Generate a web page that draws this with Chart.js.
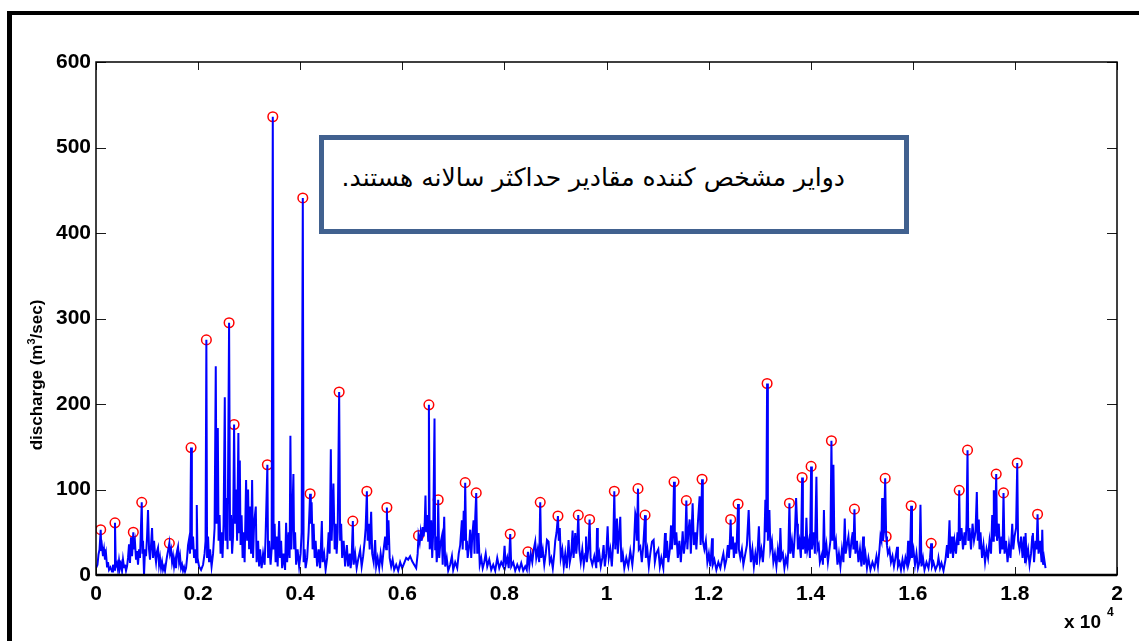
<!DOCTYPE html>
<html lang="fa">
<head>
<meta charset="UTF-8">
<title>Daily discharge with annual maxima</title>
<script src="https://cdn.jsdelivr.net/npm/chart.js"></script>
<style>
  body { margin:0; background:#fff; }
  .wrap { position:relative; width:1139px; height:641px; overflow:hidden; }
  .frame { position:absolute; left:7px; top:11px; width:1200px; height:700px; border-top:4px solid #000; border-left:5px solid #000; }
  #chart { position:absolute; left:0; top:0; }
  .note { position:absolute; left:319px; top:135px; width:590px; height:99px; box-sizing:border-box; border:5px solid #41618f; background:#fff; }
  .note p { position:absolute; right:59px; top:20px; margin:0; font:25px 'DejaVu Sans',sans-serif; line-height:36px; direction:rtl; white-space:nowrap; color:#000; }
</style>
</head>
<body>
<div class="wrap">
  <div class="frame"></div>
  <canvas id="chart" width="1139" height="641"></canvas>
  <div class="note"><p>دوایر مشخص کننده مقادیر حداکثر سالانه هستند.</p></div>
</div>

<script>
// axis ticks (x in units of 10^4 days)
const xTicks = [0, 0.2, 0.4, 0.6, 0.8, 1, 1.2, 1.4, 1.6, 1.8, 2];
const yTicks = [0, 100, 200, 300, 400, 500, 600];

// annual maxima (red circles): day index, discharge m3/s
const peakDays = [92, 372, 731, 896, 1437, 1862, 2162, 2607, 2705, 3357, 3463, 4051, 4194, 4763, 5031, 5306, 5698,
  6317, 6521, 6703, 7232, 7448, 8114, 8461, 8702, 9049, 9447, 9669, 10153, 10617, 10755, 11323, 11564, 11872,
  12432, 12577, 13146, 13583, 13832, 14008, 14406, 14857, 15459, 15478, 15968, 16360, 16909, 17072, 17634,
  17777, 18046, 18444];
const peakValues = [53, 61, 50, 85, 37, 149, 275, 295, 176, 129, 536, 441, 95, 214, 63, 98, 79,
  46, 199, 88, 108, 96, 48, 27, 85, 69, 70, 65, 98, 101, 70, 109, 87, 112,
  65, 83, 224, 84, 114, 127, 157, 77, 113, 45, 81, 37, 99, 146, 118,
  96, 131, 71];

// daily discharge trace: [day, m3/s]
const flowTrace = [
  [0,8],[29,12],[49,24],[69,30],[92,53],[104,28],[118,33],[137,22],[157,30],[176,18],[196,25],[216,10],[235,15],[255,6],[284,9],[314,4],[333,12],[353,6],[372,61],[388,10],
  [412,14],[431,6],[451,17],[470,8],[490,13],[510,5],[529,18],[549,9],[568,12],[588,5],[608,10],[627,20],[647,36],[666,14],[686,44],[706,22],[731,50],[745,30],[764,38],[784,18],
  [804,28],[823,12],[843,30],[862,20],[896,85],[911,25],[921,40],[941,0],[960,30],[980,22],[1000,45],[1019,76],[1039,30],[1058,18],[1078,35],[1098,55],[1117,20],[1137,40],[1156,25],[1176,15],
  [1196,28],[1215,32],[1235,12],[1254,20],[1274,8],[1294,15],[1313,6],[1333,10],[1352,5],[1372,14],[1392,22],[1411,28],[1437,37],[1450,25],[1470,30],[1490,15],[1509,22],[1529,10],[1548,18],[1568,8],
  [1588,28],[1607,33],[1627,15],[1646,22],[1666,8],[1686,12],[1705,5],[1725,9],[1744,4],[1764,8],[1784,20],[1803,35],[1823,42],[1842,25],[1862,149],[1878,30],[1901,45],[1921,20],[1940,30],[1960,15],
  [1974,82],[1989,20],[2019,10],[2058,6],[2097,12],[2127,25],[2146,40],[2162,275],[2176,20],[2195,45],[2215,15],[2234,30],[2264,10],[2293,25],[2323,55],[2346,244],[2362,60],[2386,172],[2401,40],[2421,70],
  [2440,25],[2460,50],[2479,20],[2499,60],[2523,208],[2538,40],[2558,90],[2577,30],[2607,295],[2626,40],[2646,70],[2666,25],[2685,45],[2705,176],[2724,60],[2744,100],[2764,40],[2789,166],[2803,50],[2817,134],
  [2832,35],[2852,70],[2872,20],[2891,50],[2911,15],[2940,111],[2960,40],[2979,100],[2999,30],[3018,80],[3038,25],[3058,111],[3077,20],[3097,60],[3130,80],[3146,15],[3175,40],[3195,10],[3214,30],[3244,8],
  [3273,25],[3303,12],[3322,45],[3357,129],[3371,20],[3391,40],[3420,12],[3440,30],[3463,536],[3479,30],[3499,60],[3518,15],[3538,45],[3558,10],[3587,63],[3606,20],[3626,40],[3646,8],[3675,25],[3704,6],
  [3724,61],[3744,15],[3773,50],[3793,20],[3808,163],[3826,30],[3842,60],[3867,118],[3881,30],[3900,50],[3920,12],[3949,30],[3979,10],[4008,25],[4028,50],[4051,441],[4067,15],[4087,30],[4106,8],[4136,20],
  [4165,50],[4194,95],[4208,60],[4224,85],[4243,30],[4263,60],[4283,20],[4302,40],[4332,10],[4361,30],[4390,8],[4424,63],[4439,15],[4469,25],[4498,6],[4528,20],[4557,50],[4577,25],[4600,147],[4616,40],
  [4651,107],[4675,30],[4694,60],[4714,25],[4734,50],[4763,214],[4782,40],[4802,60],[4822,20],[4851,40],[4880,10],[4914,35],[4939,10],[4969,25],[4988,8],[5008,20],[5031,63],[5047,12],[5076,25],[5106,8],
  [5135,18],[5174,29],[5204,10],[5233,22],[5263,40],[5282,55],[5306,98],[5321,40],[5341,60],[5361,30],[5390,74],[5410,25],[5439,15],[5468,41],[5488,10],[5517,20],[5547,8],[5576,25],[5606,12],[5635,30],
  [5664,45],[5684,30],[5698,79],[5713,35],[5729,64],[5753,20],[5782,10],[5811,18],[5841,6],[5880,12],[5919,5],[5958,15],[5998,8],[6037,14],[6076,20],[6115,18],[6154,22],[6194,16],[6233,12],[6272,8],
  [6301,25],[6317,46],[6341,38],[6360,50],[6380,40],[6399,56],[6419,45],[6439,60],[6454,93],[6468,50],[6488,70],[6507,40],[6521,199],[6537,30],[6556,40],[6566,64],[6586,20],[6605,50],[6631,183],[6644,30],
  [6658,45],[6674,15],[6690,30],[6703,88],[6723,20],[6742,35],[6775,45],[6791,12],[6821,68],[6840,10],[6870,20],[6899,5],[6938,12],[6972,22],[6997,6],[7036,15],[7076,8],[7105,25],[7134,35],[7167,64],
  [7183,30],[7203,75],[7218,40],[7232,108],[7252,30],[7265,40],[7281,20],[7310,35],[7330,53],[7350,20],[7370,45],[7396,64],[7415,25],[7429,68],[7448,96],[7468,25],[7493,49],[7517,12],[7546,20],[7575,8],
  [7605,15],[7634,25],[7664,10],[7703,18],[7742,6],[7781,12],[7820,5],[7860,20],[7899,8],[7938,15],[7977,10],[8003,34],[8026,12],[8056,20],[8085,8],[8114,48],[8134,10],[8173,15],[8212,5],[8252,12],
  [8291,6],[8330,14],[8369,5],[8408,10],[8438,6],[8461,27],[8487,10],[8516,25],[8546,15],[8575,30],[8604,39],[8624,20],[8653,30],[8682,15],[8702,85],[8722,20],[8751,30],[8781,12],[8810,25],[8834,41],
  [8865,39],[8889,15],[8918,20],[8948,8],[8977,25],[8996,40],[9022,50],[9049,69],[9065,40],[9085,55],[9104,20],[9134,30],[9163,10],[9192,25],[9222,8],[9257,41],[9281,15],[9310,25],[9336,52],[9355,20],
  [9388,49],[9408,25],[9428,40],[9447,70],[9467,30],[9496,15],[9526,30],[9555,12],[9584,25],[9598,45],[9614,15],[9643,30],[9669,65],[9688,20],[9722,12],[9761,22],[9800,8],[9814,55],[9830,15],[9859,25],
  [9888,10],[9918,20],[9943,35],[9967,10],[9996,25],[10022,57],[10045,20],[10074,30],[10104,10],[10133,40],[10153,98],[10172,30],[10205,66],[10221,25],[10270,68],[10290,15],[10319,25],[10349,8],[10388,20],[10427,10],
  [10466,28],[10506,12],[10535,30],[10564,72],[10578,68],[10594,40],[10617,101],[10633,30],[10662,33],[10692,15],[10721,35],[10755,70],[10770,20],[10800,30],[10829,10],[10858,25],[10891,39],[10923,41],[10947,15],[10976,25],
  [11015,30],[11045,10],[11074,20],[11113,8],[11146,49],[11162,20],[11186,40],[11211,15],[11241,30],[11264,58],[11280,30],[11299,45],[11323,109],[11338,35],[11368,50],[11397,20],[11427,40],[11456,15],[11492,51],[11515,25],
  [11544,40],[11564,87],[11584,30],[11603,50],[11629,65],[11652,25],[11687,84],[11711,35],[11740,50],[11760,30],[11789,60],[11824,92],[11844,35],[11872,112],[11887,40],[11917,30],[11946,40],[11976,15],[12005,25],[12034,10],
  [12068,43],[12083,12],[12113,18],[12152,6],[12191,15],[12230,8],[12270,20],[12289,25],[12319,10],[12348,18],[12377,35],[12397,20],[12417,40],[12432,65],[12446,30],[12475,45],[12495,20],[12524,38],[12544,25],[12577,83],
  [12593,30],[12622,20],[12652,30],[12681,12],[12720,25],[12750,35],[12785,76],[12805,40],[12828,15],[12858,30],[12887,10],[12916,25],[12946,12],[12985,57],[13005,20],[13034,30],[13063,15],[13093,40],[13112,88],[13128,50],
  [13146,224],[13161,40],[13177,60],[13191,76],[13210,30],[13240,40],[13269,15],[13299,25],[13328,10],[13357,30],[13387,15],[13406,55],[13426,20],[13455,25],[13485,8],[13514,20],[13544,12],[13563,30],[13583,84],[13602,25],
  [13632,40],[13661,20],[13691,50],[13714,90],[13734,60],[13749,30],[13779,40],[13808,20],[13832,114],[13847,30],[13877,45],[13896,25],[13916,67],[13936,30],[13965,40],[13985,20],[14008,127],[14023,30],[14059,50],[14082,25],
  [14112,115],[14131,30],[14157,35],[14180,15],[14223,25],[14239,12],[14259,76],[14278,20],[14308,35],[14337,15],[14367,30],[14386,40],[14406,157],[14426,40],[14445,129],[14465,30],[14494,40],[14524,12],[14553,25],[14582,10],
  [14612,30],[14641,15],[14667,66],[14686,25],[14710,35],[14739,45],[14769,20],[14798,40],[14823,50],[14837,30],[14857,77],[14876,25],[14906,40],[14935,15],[14965,30],[14994,10],[15027,45],[15043,12],[15072,25],[15102,8],
  [15131,20],[15170,6],[15210,15],[15249,8],[15288,22],[15317,10],[15347,30],[15366,45],[15386,40],[15400,90],[15415,40],[15435,50],[15459,113],[15478,45],[15494,35],[15513,25],[15543,30],[15572,15],[15602,22],[15631,10],
  [15660,20],[15693,33],[15709,10],[15739,15],[15768,6],[15798,18],[15827,8],[15856,20],[15886,12],[15909,40],[15925,15],[15945,20],[15968,81],[15984,20],[16013,30],[16043,12],[16072,25],[16101,8],[16131,15],[16150,82],
  [16170,10],[16199,20],[16229,6],[16268,15],[16307,8],[16337,20],[16360,37],[16376,10],[16405,15],[16444,6],[16484,12],[16503,20],[16533,8],[16562,14],[16601,5],[16640,18],[16670,35],[16689,20],[16719,64],[16738,25],
  [16768,45],[16787,20],[16817,40],[16846,25],[16876,50],[16895,35],[16909,99],[16925,40],[16954,55],[16983,30],[17013,50],[17032,35],[17052,60],[17072,146],[17087,40],[17111,55],[17140,30],[17170,60],[17199,40],[17228,50],
  [17254,97],[17272,40],[17293,65],[17307,30],[17326,50],[17356,20],[17385,35],[17415,15],[17444,30],[17474,20],[17503,40],[17532,25],[17556,70],[17572,40],[17587,99],[17607,45],[17634,118],[17650,40],[17685,60],[17709,25],
  [17738,45],[17758,30],[17777,96],[17797,25],[17826,40],[17856,15],[17885,35],[17914,20],[17948,60],[17968,30],[17993,45],[18023,55],[18046,131],[18062,40],[18091,30],[18120,45],[18150,20],[18176,45],[18199,15],[18209,49],
  [18228,20],[18258,30],[18287,12],[18316,25],[18340,45],[18352,49],[18375,15],[18404,40],[18424,30],[18444,71],[18463,25],[18493,40],[18522,15],[18536,53],[18552,12],[18571,20],[18600,8]
];

const AXIS_FONT = { family: "'Liberation Sans', Arial, sans-serif", weight: 'bold', size: 21 };

// axis box, inward ticks, y title and the x10^4 multiplier
const matlabAxes = {
  id: 'matlabAxes',
  afterDraw(chart) {
    const { ctx, chartArea: a, scales: { x, y } } = chart;
    const seg = (x1, y1, x2, y2) => { ctx.beginPath(); ctx.moveTo(x1, y1); ctx.lineTo(x2, y2); ctx.stroke(); };
    ctx.save();
    ctx.strokeStyle = '#1a1a1a';
    ctx.lineWidth = 1;
    yTicks.forEach(v => {
      const p = Math.round(y.getPixelForValue(v)) + 0.5;
      seg(a.left, p, a.left + 10, p);
      seg(a.right - 10, p, a.right, p);
    });
    xTicks.forEach(v => {
      const p = Math.round(x.getPixelForValue(v * 10000)) + 0.5;
      seg(p, a.bottom, p, a.bottom - 8);
      seg(p, a.top, p, a.top + 8);
    });
    ctx.strokeStyle = '#000';
    ctx.lineWidth = 1.5;
    ctx.strokeRect(a.left, a.top, a.right - a.left, a.bottom - a.top);
    ctx.lineWidth = 2.5;
    seg(a.left, a.bottom, a.right, a.bottom);

    // y title with superscript
    ctx.fillStyle = '#000';
    ctx.textBaseline = 'alphabetic';
    const big = "bold 17px 'Liberation Sans', Arial, sans-serif";
    const small = "bold 11px 'Liberation Sans', Arial, sans-serif";
    ctx.font = big;
    const w1 = ctx.measureText('discharge (m').width, w3 = ctx.measureText('/sec)').width;
    ctx.font = small;
    const w2 = ctx.measureText('3').width;
    ctx.translate(42, 375);
    ctx.rotate(-Math.PI / 2);
    let sx = -(w1 + w2 + w3) / 2;
    ctx.font = big; ctx.fillText('discharge (m', sx, 0); sx += w1;
    ctx.font = small; ctx.fillText('3', sx, -7); sx += w2;
    ctx.font = big; ctx.fillText('/sec)', sx, 0);
    ctx.setTransform(1, 0, 0, 1, 0, 0);

    ctx.font = "bold 19px 'Liberation Sans', Arial, sans-serif";
    ctx.fillText('x 10', 1064, 628);
    ctx.font = "bold 12px 'Liberation Sans', Arial, sans-serif";
    ctx.fillText('4', 1107, 616);
    ctx.restore();
  }
};

new Chart(document.getElementById('chart'), {
  type: 'scatter',
  data: {
    datasets: [
      {
        data: flowTrace.map(p => ({ x: p[0], y: p[1] })),
        showLine: true, borderColor: '#0000ff', borderWidth: 2, pointRadius: 0, tension: 0
      },
      {
        data: peakDays.map((d, i) => ({ x: d, y: peakValues[i] })),
        showLine: false, pointStyle: 'circle', pointRadius: 4.8, borderColor: '#ff0000',
        borderWidth: 1.5, backgroundColor: 'rgba(0,0,0,0)'
      }
    ]
  },
  options: {
    responsive: false,
    animation: false,
    layout: { padding: { left: 0, top: 62, right: 22, bottom: 0 } },
    plugins: { legend: { display: false }, tooltip: { enabled: false } },
    scales: {
      x: {
        type: 'linear', min: 0, max: 20000,
        afterBuildTicks: s => { s.ticks = xTicks.map(v => ({ value: v * 10000 })); },
        afterFit: s => { s.height = 66; },
        ticks: {
          callback: v => (v / 10000).toFixed(1).replace(/\.0$/, ''),
          font: AXIS_FONT, color: '#000', maxRotation: 0, autoSkip: false, padding: 7
        },
        grid: { display: false, drawTicks: false },
        border: { display: false }
      },
      y: {
        min: 0, max: 600,
        afterBuildTicks: s => { s.ticks = yTicks.map(v => ({ value: v })); },
        afterFit: s => { s.width = 96; },
        ticks: { font: AXIS_FONT, color: '#000', padding: 5 },
        grid: { display: false, drawTicks: false },
        border: { display: false }
      }
    }
  },
  plugins: [matlabAxes]
});
</script>
</body>
</html>
